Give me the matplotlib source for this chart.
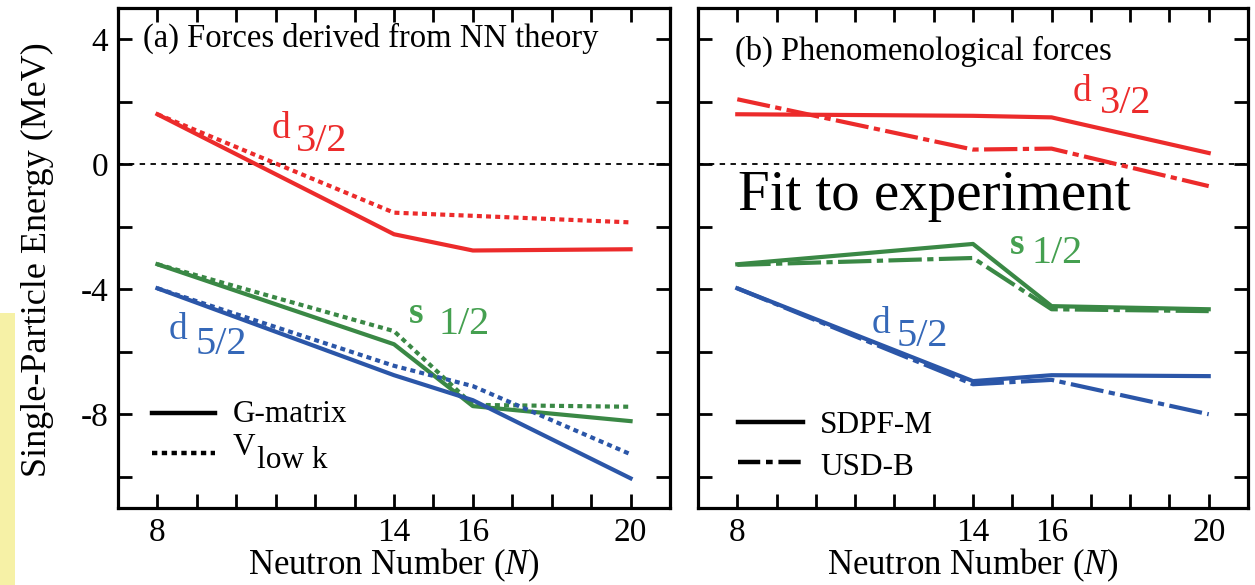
import matplotlib
matplotlib.use("Agg")
import matplotlib.pyplot as plt
from matplotlib.patches import Rectangle

plt.rcParams['font.family'] = ['Liberation Serif', 'DejaVu Serif']
plt.rcParams['mathtext.fontset'] = 'custom'
plt.rcParams['mathtext.rm'] = 'Liberation Serif'
plt.rcParams['mathtext.it'] = 'Liberation Serif:italic'
plt.rcParams['axes.unicode_minus'] = False

# ---------------- data ----------------
N = [8, 14, 16, 20]

# (a) Forces derived from NN theory
d32_G = [1.6, -2.24, -2.76, -2.72]
d32_V = [1.6, -1.55, -1.65, -1.86]
s12_G = [-3.2, -5.76, -7.74, -8.22]
s12_V = [-3.2, -5.34, -7.70, -7.76]
d52_G = [-3.97, -6.75, -7.55, -10.05]
d52_V = [-3.97, -6.45, -7.10, -9.28]

# (b) Phenomenological forces
d32_SDPF = [1.6, 1.55, 1.5, 0.36]
d32_USDB = [2.08, 0.47, 0.5, -0.7]
s12_SDPF = [-3.2, -2.55, -4.54, -4.64]
s12_USDB = [-3.22, -3.0, -4.64, -4.7]
d52_SDPF = [-3.97, -6.94, -6.75, -6.78]
d52_USDB = [-3.97, -7.04, -6.9, -8.0]

xticks = [8, 14, 16, 20]
yticks = [4, 0, -4, -8]

RED = '#EC2B2B'
GREEN = '#3A8845'
BLUE = '#2B56A8'
GREEN_T = '#45A050'
BLUE_T = '#3568B8'

W, H = 1255, 585
fig = plt.figure(figsize=(W / 100, H / 100), dpi=100)

# pale yellow scan strip at the left edge
fig.patches.append(Rectangle((0, 0), 15 / W, (585 - 313) / H, transform=fig.transFigure,
                             facecolor='#F6F1A6', edgecolor='none', zorder=0))

axL = fig.add_axes([118 / W, 1 - 508 / H, 552 / W, 500 / H])
axR = fig.add_axes([698 / W, 1 - 508 / H, 550 / W, 500 / H])

LW = 3.0
DOT = (1.2, 1.0)
DASHDOT = (8, 1.3, 1.5, 1.3)

for ax in (axL, axR):
    ax.set_xlim(7, 21)
    ax.set_ylim(-11, 5)
    ax.axhline(0, color='black', lw=1.3, dashes=(3, 3), zorder=1)
    ax.set_xticks(xticks)
    ax.set_xticks(range(8, 21), minor=True)
    ax.set_yticks(yticks)
    ax.set_yticks([-10, -6, -2, 2], minor=True)
    ax.tick_params(which='both', direction='in', top=True, right=True,
                   length=10, width=2, labelsize=24, pad=8)
    ax.tick_params(axis='x', pad=7)
    for s in ax.spines.values():
        s.set_linewidth(2.3)
    ax.set_xlabel(r'Neutron Number ($\mathit{N}$)', fontsize=25, labelpad=-1)

axR.tick_params(labelleft=False)
axL.tick_params(axis='y', pad=7)

# panel (a)
axL.plot(N, d32_V, color=RED, lw=LW, dashes=DOT)
axL.plot(N, d32_G, color=RED, lw=LW)
axL.plot(N, s12_V, color=GREEN, lw=LW, dashes=DOT)
axL.plot(N, s12_G, color=GREEN, lw=LW)
axL.plot(N, d52_V, color=BLUE, lw=LW, dashes=DOT)
axL.plot(N, d52_G, color=BLUE, lw=LW)

# panel (b)
axR.plot(N, d32_USDB, color=RED, lw=LW, dashes=DASHDOT)
axR.plot(N, d32_SDPF, color=RED, lw=LW)
axR.plot(N, s12_USDB, color=GREEN, lw=LW, dashes=DASHDOT)
axR.plot(N, s12_SDPF, color=GREEN, lw=LW)
axR.plot(N, d52_USDB, color=BLUE, lw=LW, dashes=DASHDOT)
axR.plot(N, d52_SDPF, color=BLUE, lw=LW)

# titles
axL.text(0.045, 0.922, '(a) Forces derived from NN theory', transform=axL.transAxes,
         fontsize=23.5, ha='left', va='baseline')
axR.text(0.067, 0.896, '(b) Phenomenological forces', transform=axR.transAxes,
         fontsize=23.5, ha='left', va='baseline')
axR.text(0.073, 0.596, 'Fit to experiment', transform=axR.transAxes,
         fontsize=41, ha='left', va='baseline')

def orbital(ax, letter, frac, x1, y1, x2, y2, color, bold=False):
    ax.text(x1, y1, letter, color=color, fontsize=27, ha='left', va='baseline',
            fontweight='bold' if bold else 'normal')
    ax.text(x2, y2, frac, color=color, fontsize=29, ha='left', va='baseline')

orbital(axL, 'd', '3/2', 10.9, 0.83, 11.52, 0.42, RED)
orbital(axL, 's', '1/2', 14.37, -5.09, 15.13, -5.44, GREEN_T, bold=True)
orbital(axL, 'd', '5/2', 8.28, -5.6, 8.96, -6.08, BLUE_T)
orbital(axR, 'd', '3/2', 16.53, 2.02, 17.22, 1.63, RED)
orbital(axR, 's', '1/2', 14.93, -2.88, 15.49, -3.17, GREEN_T, bold=True)
orbital(axR, 'd', '5/2', 11.41, -5.41, 12.05, -5.82, BLUE_T)

# legends (manual)
LEGFS = 22.5
axL.plot([0.062, 0.176], [0.19, 0.19], transform=axL.transAxes, color='black', lw=3.2)
axL.text(0.207, 0.172, 'G-matrix', transform=axL.transAxes, fontsize=LEGFS, va='baseline')
axL.plot([0.062, 0.176], [0.11, 0.11], transform=axL.transAxes, color='black', lw=3.2,
         dashes=(1.2, 1.0))
axL.text(0.207, 0.106, 'V', transform=axL.transAxes, fontsize=LEGFS, va='baseline')
axL.text(0.252, 0.08, 'low k', transform=axL.transAxes, fontsize=LEGFS, va='baseline')

axR.plot([0.073, 0.191], [0.172, 0.172], transform=axR.transAxes, color='black', lw=3.2)
axR.text(0.222, 0.15, 'SDPF-M', transform=axR.transAxes, fontsize=LEGFS, va='baseline')
axR.plot([0.073, 0.191], [0.092, 0.092], transform=axR.transAxes, color='black', lw=3.2,
         dashes=(5, 1.3, 1.5, 1.3))
axR.text(0.222, 0.066, 'USD-B', transform=axR.transAxes, fontsize=LEGFS, va='baseline')

fig.text(37 / W, 1 - 260 / H, 'Single-Particle Energy (MeV)', rotation=90,
         fontsize=26, ha='center', va='center')

fig.savefig('out.png', dpi=100)
